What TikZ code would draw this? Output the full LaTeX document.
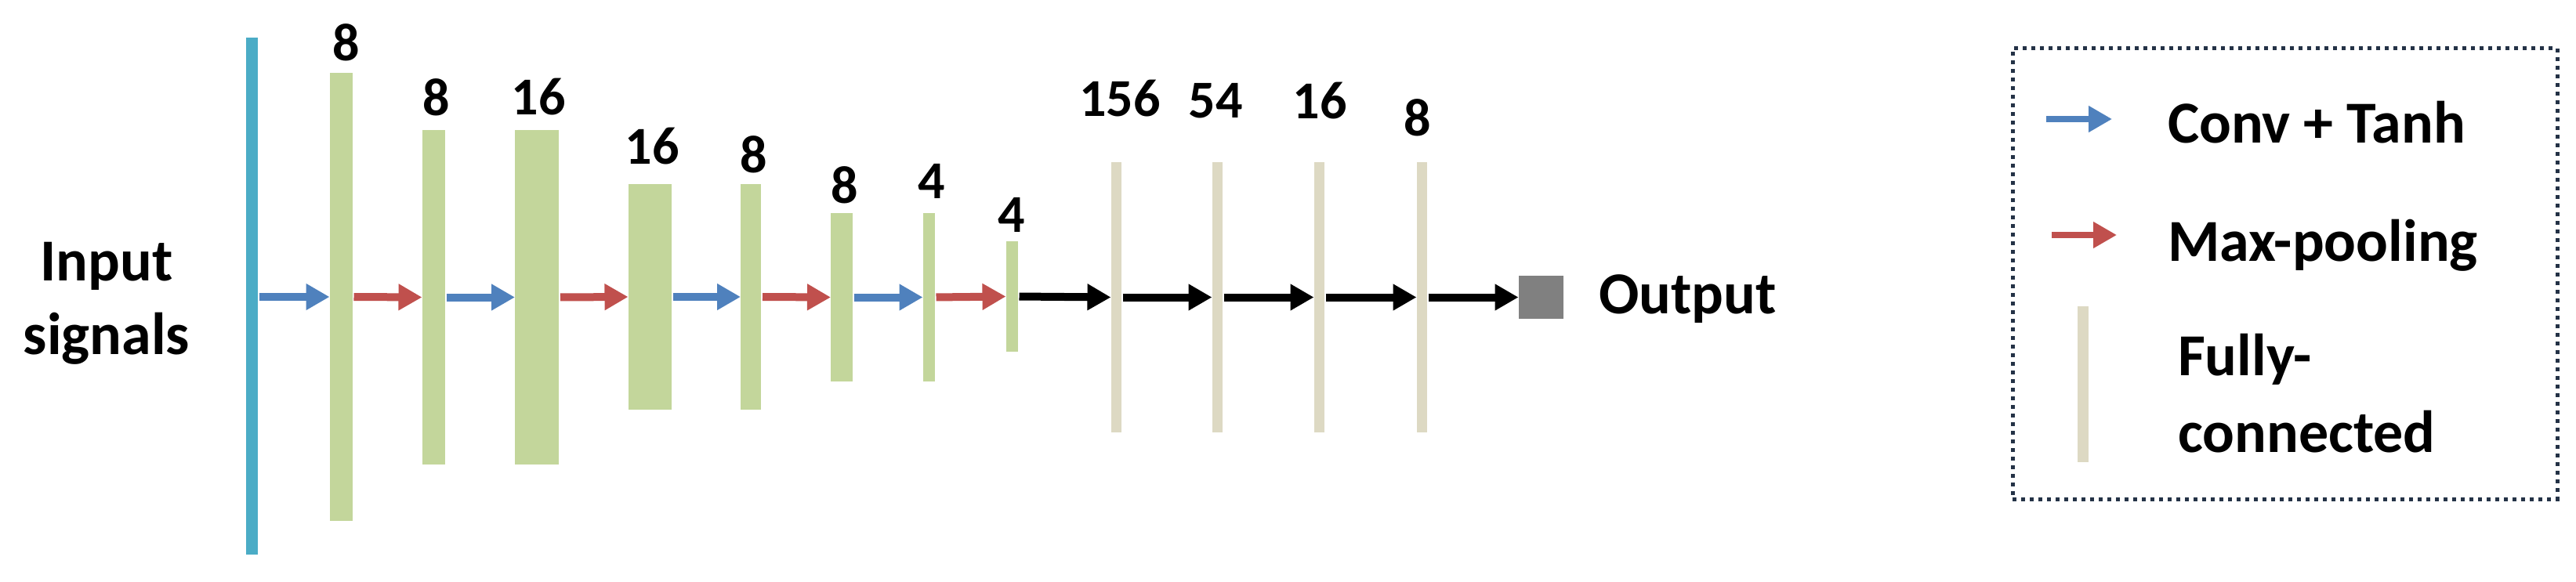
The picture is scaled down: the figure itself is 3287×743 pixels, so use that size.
\documentclass[tikz,border=0pt]{standalone}
\usepackage{fontspec}
\setmainfont{Carlito}
\usetikzlibrary{arrows.meta}
\definecolor{cyanline}{HTML}{4BACC6}
\definecolor{convgreen}{HTML}{C3D69B}
\definecolor{fcbeige}{HTML}{DDD9C3}
\definecolor{convblue}{HTML}{4F81BD}
\definecolor{poolred}{HTML}{C0504D}
\definecolor{outgray}{HTML}{808080}
\definecolor{legframe}{HTML}{243246}
\begin{document}
\begin{tikzpicture}[x=1pt,y=-1pt,
  bar/.style={rectangle, inner sep=0pt, outer sep=0pt, draw=none},
  gbar/.style 2 args={bar, fill=convgreen, minimum width=#1, minimum height=#2},
  fbar/.style={bar, fill=fcbeige, minimum width=13pt, minimum height=345pt},
  arr/.style={line width=10pt, -{Triangle[length=30pt,width=32pt]}, shorten <=2pt},
  convarr/.style={arr, draw=convblue},
  poolarr/.style={arr, draw=poolred},
  fcarr/.style={arr, draw=black, line width=10pt},
  txt/.style={inner sep=0pt, outer sep=0pt, font=\fontsize{76}{94}\selectfont\bfseries},
  lab/.style={inner sep=0pt, outer sep=0pt, font=\fontsize{68}{80}\selectfont\bfseries}
]
\useasboundingbox[fill=white] (0,0) rectangle (3287,743);

% input
\node[txt, anchor=base] (inp1) at (136,358) {Input};
\node[txt, anchor=base] (inp2) at (136,452) {signals};
\node[bar, fill=cyanline, minimum width=15pt, minimum height=660pt] (inp) at (321,378) {};

% conv / pooling layers
\node[gbar={29pt}{572pt}] (b1) at (435,379) {};
\node[gbar={29pt}{427pt}] (b2) at (553,379.5) {};
\node[gbar={56pt}{427pt}] (b3) at (685,379.5) {};
\node[gbar={55pt}{287pt}] (b4) at (829,379) {};
\node[gbar={26pt}{287pt}] (b5) at (958,379) {};
\node[gbar={28pt}{215pt}] (b6) at (1074,379.5) {};
\node[gbar={15pt}{215pt}] (b7) at (1185,379.5) {};
\node[gbar={15pt}{141pt}] (b8) at (1291,378.5) {};

% fully connected
\node[fbar] (f1) at (1424,379.5) {};
\node[fbar] (f2) at (1553,379.5) {};
\node[fbar] (f3) at (1683,379.5) {};
\node[fbar] (f4) at (1814,379.5) {};

% output
\node[bar, fill=outgray, minimum width=57pt, minimum height=55pt] (out) at (1966,379.5) {};
\node[txt, anchor=base west] (outl) at (2040,400) {Output};

% labels
\node[lab] (l1) at (442,54) {8};
\node[lab] (l2) at (557,124) {8};
\node[lab] (l3) at (687,124) {16};
\node[lab] (l4) at (832,187) {16};
\node[lab] (l5) at (962,197) {8};
\node[lab] (l6) at (1078,236) {8};
\node[lab] (l7) at (1189,231) {4};
\node[lab] (l8) at (1291,274) {4};
\node[lab] (l9) at (1429,126) {156};
\node[lab] (l10) at (1551,129) {54};
\node[lab] (l11) at (1684,129) {16};
\node[lab] (l12) at (1809,150) {8};

% connectors
\draw[convarr] (inp.east |- b1.west) -- (b1.west);
\draw[poolarr] (b1.east) -- (b2.west);
\draw[convarr] (b2.east) -- (b3.west);
\draw[poolarr] (b3.east) -- (b4.west);
\draw[convarr] (b4.east) -- (b5.west);
\draw[poolarr] (b5.east) -- (b6.west);
\draw[convarr] (b6.east) -- (b7.west);
\draw[poolarr] (b7.east) -- (b8.west);
\draw[fcarr] (b8.east) -- (f1.west);
\draw[fcarr] (f1.east) -- (f2.west);
\draw[fcarr] (f2.east) -- (f3.west);
\draw[fcarr] (f3.east) -- (f4.west);
\draw[fcarr] (f4.east) -- (out.west);

% legend
\node[draw=legframe, line width=5pt, dash pattern=on 5pt off 6pt,
      rectangle, inner sep=0pt, minimum width=695pt, minimum height=575pt] (leg) at (2915.5,349.5) {};
\coordinate (lca) at (2609,152);
\coordinate (lcb) at (2695,152);
\draw[convarr, line width=8pt] (lca) -- (lcb);
\node[txt, anchor=base west] (lct) at (2766,183) {Conv + Tanh};
\coordinate (lpa) at (2616,300);
\coordinate (lpb) at (2701,300);
\draw[poolarr, line width=8pt] (lpa) -- (lpb);
\node[txt, anchor=base west] (lpt) at (2766,333) {Max-pooling};
\node[bar, fill=fcbeige, minimum width=14pt, minimum height=199pt] (lfc) at (2658,490.5) {};
\node[txt, anchor=base west] (lft1) at (2779,479) {Fully-};
\node[txt, anchor=base west] (lft2) at (2779,577) {connected};
\end{tikzpicture}
\end{document}
